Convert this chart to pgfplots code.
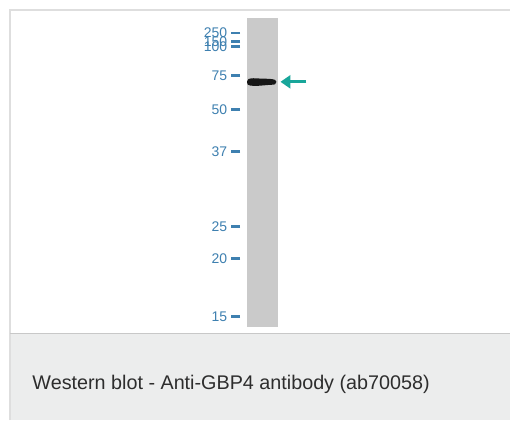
\documentclass[border=0pt]{standalone}
\usepackage{pgfplots}
\usepackage{pgfplotstable}
\pgfplotsset{compat=1.18}
\usepackage{fontspec}
\setmainfont{Liberation Sans}
\usetikzlibrary{arrows.meta}

\definecolor{framegray}{RGB}{222,222,222}
\definecolor{panelgray}{RGB}{236,237,237}
\definecolor{lanegray}{RGB}{202,202,202}
\definecolor{bandblack}{RGB}{22,22,22}
\definecolor{ladderblue}{RGB}{62,128,176}
\definecolor{arrowteal}{RGB}{24,166,154}
\definecolor{captext}{RGB}{45,45,45}

% marker positions (molecular weight in kDa, vertical position in pixels)
\pgfplotstableread{
mw  y
250 33
150 41.5
100 46.5
75  76
50  110
37  152
25  227
20  259
15  317
}\ladder

\begin{document}
\begin{tikzpicture}
\begin{axis}[
    scale only axis,
    width=511pt, height=421pt,
    xmin=0, xmax=511, ymin=0, ymax=421,
    y dir=reverse,
    hide axis,
    clip=false,
]
% page background
\addplot[fill=white, draw=none] coordinates {(0,0) (511,0) (511,421) (0,421)} -- cycle;
% caption panel
\addplot[fill=panelgray, draw=none] coordinates {(10,334) (511,334) (511,421) (10,421)} -- cycle;
% frame
\addplot[framegray, line width=2pt] coordinates {(10,421) (10,10) (511,10)};
\addplot[framegray!90!black, line width=1pt] coordinates {(10,334) (511,334)};

% gel lane
\addplot[fill=lanegray, draw=none] coordinates {(247,18) (279,18) (279,328) (247,328)} -- cycle;

% band at ~70 kDa
\addplot[fill=bandblack, draw=none, smooth] coordinates {
    (247.5,82) (249,79.2) (254,78.4) (262,78.8) (270,79) (275.5,80) (277,82)
    (275.5,84.5) (268,85.2) (258,86) (251,85.8) (248,84.5)} -- cycle;

% ladder ticks and labels
\addplot[only marks, mark=-, mark size=4.5, ladderblue, line width=2.8pt,
    point meta=explicit symbolic,
    nodes near coords,
    nodes near coords style={anchor=east, xshift=-7pt, yshift=0pt,
        font=\fontsize{14}{15}\selectfont, text=ladderblue, inner sep=0pt},
] table[x expr=236, y=y, meta=mw] {\ladder};

% arrow pointing at the band
\addplot[arrowteal, line width=3pt, -{Triangle[length=10pt,width=13pt]}]
    coordinates {(307,82) (281,82)};

\node[anchor=base west, font=\fontsize{19.8}{24}\selectfont, text=captext]
    at (axis cs:29,390) {Western blot - Anti-GBP4 antibody (ab70058)};
\end{axis}
\end{tikzpicture}
\end{document}
